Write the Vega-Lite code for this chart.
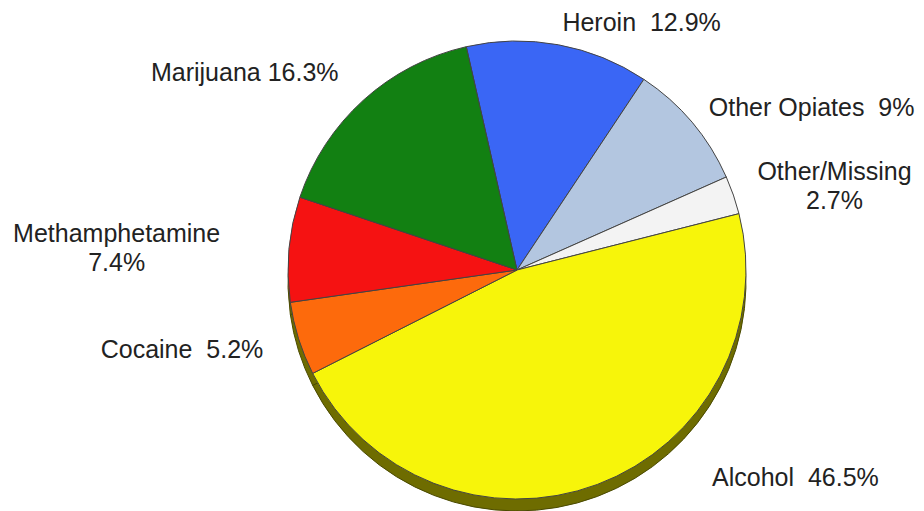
{
  "$schema": "https://vega.github.io/schema/vega-lite/v6.json",
  "autosize": {"type": "none"},
  "width": 814,
  "height": 482,
  "padding": {"left": 110, "top": 29, "right": 0, "bottom": 0},
  "background": "white",
  "config": {"view": {"stroke": null}, "text": {"font": "Liberation Sans", "fontSize": 25, "fill": "#222222", "lineHeight": 29}},
  "data": {
    "values": [
      {"category": "Heroin", "value": 12.9, "label": ["Heroin \u00a012.9%"]},
      {"category": "Other Opiates", "value": 9.0, "label": ["Other Opiates \u00a09%"]},
      {"category": "Other/Missing", "value": 2.7, "label": ["Other/Missing", "2.7%"]},
      {"category": "Alcohol", "value": 46.5, "label": ["Alcohol \u00a046.5%"]},
      {"category": "Cocaine", "value": 5.2, "label": ["Cocaine \u00a05.2%"]},
      {"category": "Methamphetamine", "value": 7.4, "label": ["Methamphetamine", "7.4%"]},
      {"category": "Marijuana", "value": 16.3, "label": ["Marijuana 16.3%"]}
    ]
  },
  "transform": [
    {"window": [{"op": "sum", "field": "value", "as": "cum"}], "frame": [null, 0]},
    {"calculate": "datum.cum - datum.value / 2", "as": "mid"},
    {"calculate": "sin(datum.mid / 100 * 2 * PI - 0.2234) >= 0 ? 'R' : 'L'", "as": "side"},
    {"calculate": "datum.side == 'R' ? min(datum.mid, 41.56) : datum.mid", "as": "lt"},
    {"calculate": "length(datum.label)", "as": "nl"}
  ],
  "layer": [
    {
      "mark": {"type": "arc", "radius": 229, "yOffset": 12, "fill": "#6e6c00", "stroke": "#4a4a00", "strokeWidth": 1},
      "encoding": {
        "theta": {"field": "value", "type": "quantitative", "stack": true, "scale": {"domain": [0, 100], "range": [-0.2234, 6.0598]}},
        "order": {"field": "cum", "type": "quantitative"}
      }
    },
    {
      "mark": {"type": "arc", "radius": 229, "stroke": "#444444", "strokeWidth": 1},
      "encoding": {
        "theta": {"field": "value", "type": "quantitative", "stack": true, "scale": {"domain": [0, 100], "range": [-0.2234, 6.0598]}},
        "order": {"field": "cum", "type": "quantitative"},
        "color": {
          "field": "category",
          "type": "nominal",
          "legend": null,
          "scale": {
            "domain": ["Heroin", "Other Opiates", "Other/Missing", "Alcohol", "Cocaine", "Methamphetamine", "Marijuana"],
            "range": ["#3a66f5", "#b3c6e0", "#f3f3f3", "#f7f50a", "#fd6a0c", "#f51212", "#128012"]
          }
        }
      }
    },
    {
      "transform": [{"filter": "datum.side == 'R' && datum.nl == 1 && datum.lt == datum.mid"}],
      "mark": {"type": "text", "radius": 251, "align": "left", "baseline": "middle"},
      "encoding": {
        "theta": {"field": "lt", "type": "quantitative", "stack": null, "scale": {"domain": [0, 100], "range": [-0.2234, 6.0598]}},
        "text": {"field": "label"}
      }
    },
    {
      "transform": [{"filter": "datum.side == 'R' && datum.nl == 1 && datum.lt != datum.mid"}],
      "mark": {"type": "text", "radius": 285, "align": "left", "baseline": "middle"},
      "encoding": {
        "theta": {"field": "lt", "type": "quantitative", "stack": null, "scale": {"domain": [0, 100], "range": [-0.2234, 6.0598]}},
        "text": {"field": "label"}
      }
    },
    {
      "transform": [{"filter": "datum.side == 'R' && datum.nl > 1"}],
      "mark": {"type": "text", "radius": 336, "align": "center", "baseline": "top"},
      "encoding": {
        "theta": {"field": "lt", "type": "quantitative", "stack": null, "scale": {"domain": [0, 100], "range": [-0.2234, 6.0598]}},
        "text": {"field": "label"}
      }
    },
    {
      "transform": [{"filter": "datum.side == 'L' && datum.nl > 1"}],
      "mark": {"type": "text", "radius": 402, "align": "center", "baseline": "middle"},
      "encoding": {
        "theta": {"field": "lt", "type": "quantitative", "stack": null, "scale": {"domain": [0, 100], "range": [-0.2234, 6.0598]}},
        "text": {"field": "label"}
      }
    },
    {
      "transform": [{"filter": "datum.side == 'L' && datum.nl == 1"}],
      "mark": {"type": "text", "radius": 266, "align": "right", "baseline": "middle"},
      "encoding": {
        "theta": {"field": "lt", "type": "quantitative", "stack": null, "scale": {"domain": [0, 100], "range": [-0.2234, 6.0598]}},
        "text": {"field": "label"}
      }
    }
  ]
}
